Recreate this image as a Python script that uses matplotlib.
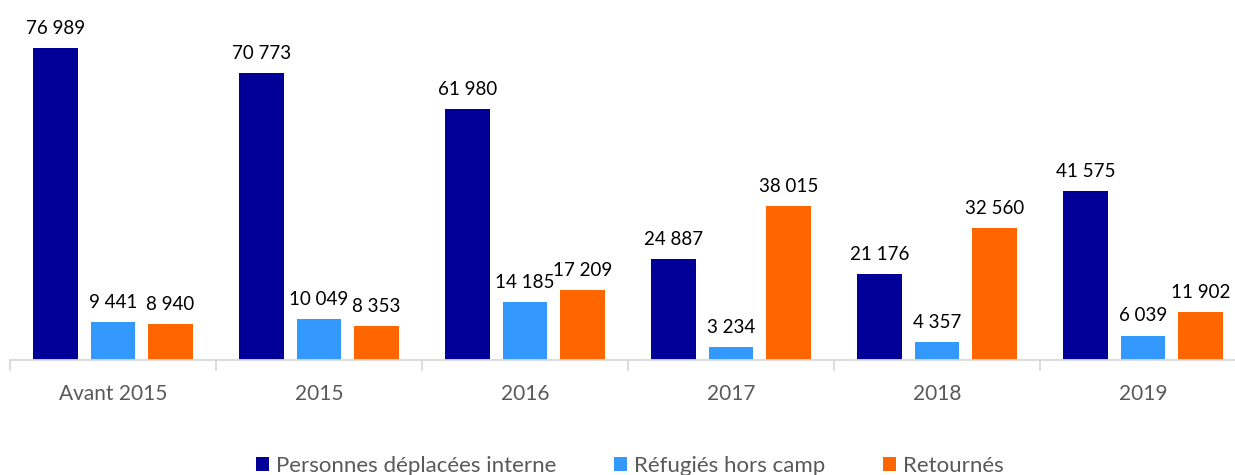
import matplotlib.pyplot as plt
import numpy as np
from matplotlib.patches import Patch

# data
categories = ['Avant 2015', '2015', '2016', '2017', '2018', '2019']
deplacees = [76989, 70773, 61980, 24887, 21176, 41575]
refugies = [9441, 10049, 14185, 3234, 4357, 6039]
retournes = [8940, 8353, 17209, 38015, 32560, 11902]

series_names = ['Personnes déplacées interne', 'Réfugiés hors camp', 'Retournés']
colors = ['#000099', '#3399FF', '#FF6600']

plt.rcParams['font.family'] = ['Lato', 'DejaVu Sans']

W, H = 1235, 475
fig = plt.figure(figsize=(W / 100, H / 100), dpi=100)
ax = fig.add_axes([10 / W, 115 / H, 1236 / W, 360 / H])

x = np.arange(len(categories))
width = 0.218
step = 0.279

for i, (vals, col) in enumerate(zip([deplacees, refugies, retournes], colors)):
    bars = ax.bar(x + (i - 1) * step, vals, width, color=col)
    for b, v in zip(bars, vals):
        ax.annotate('{:,}'.format(v).replace(',', ' '),
                    (b.get_x() + b.get_width() / 2, v),
                    xytext=(0, 8), textcoords='offset points',
                    ha='center', va='bottom', fontsize=13.5, color='black')

ax.set_xlim(-0.5, len(categories) - 0.5)
ax.set_ylim(0, 88800)
ax.set_yticks([])
for s in ['top', 'right', 'left']:
    ax.spines[s].set_visible(False)
ax.spines['bottom'].set_color('#d9d9d9')
ax.spines['bottom'].set_linewidth(1.3)

# category labels and boundary ticks
ax.set_xticks(np.arange(-0.5, len(categories) + 0.5, 1))
ax.set_xticklabels([])
ax.tick_params(axis='x', length=8, color='#d9d9d9', width=1.3)
ax.set_xticks(x, minor=True)
ax.set_xticklabels(categories, minor=True, fontsize=15, color='#595959')
ax.tick_params(axis='x', which='minor', length=0, pad=17)

handles = [Patch(facecolor=c) for c in colors]
fig.legend(handles, series_names, loc='center', bbox_to_anchor=(0.51, 9 / H),
           ncol=3, frameon=False, fontsize=16, handlelength=0.6, handleheight=0.6,
           handletextpad=0.3, columnspacing=2.6, labelcolor='#595959')

fig.savefig('out.png', dpi=100)
